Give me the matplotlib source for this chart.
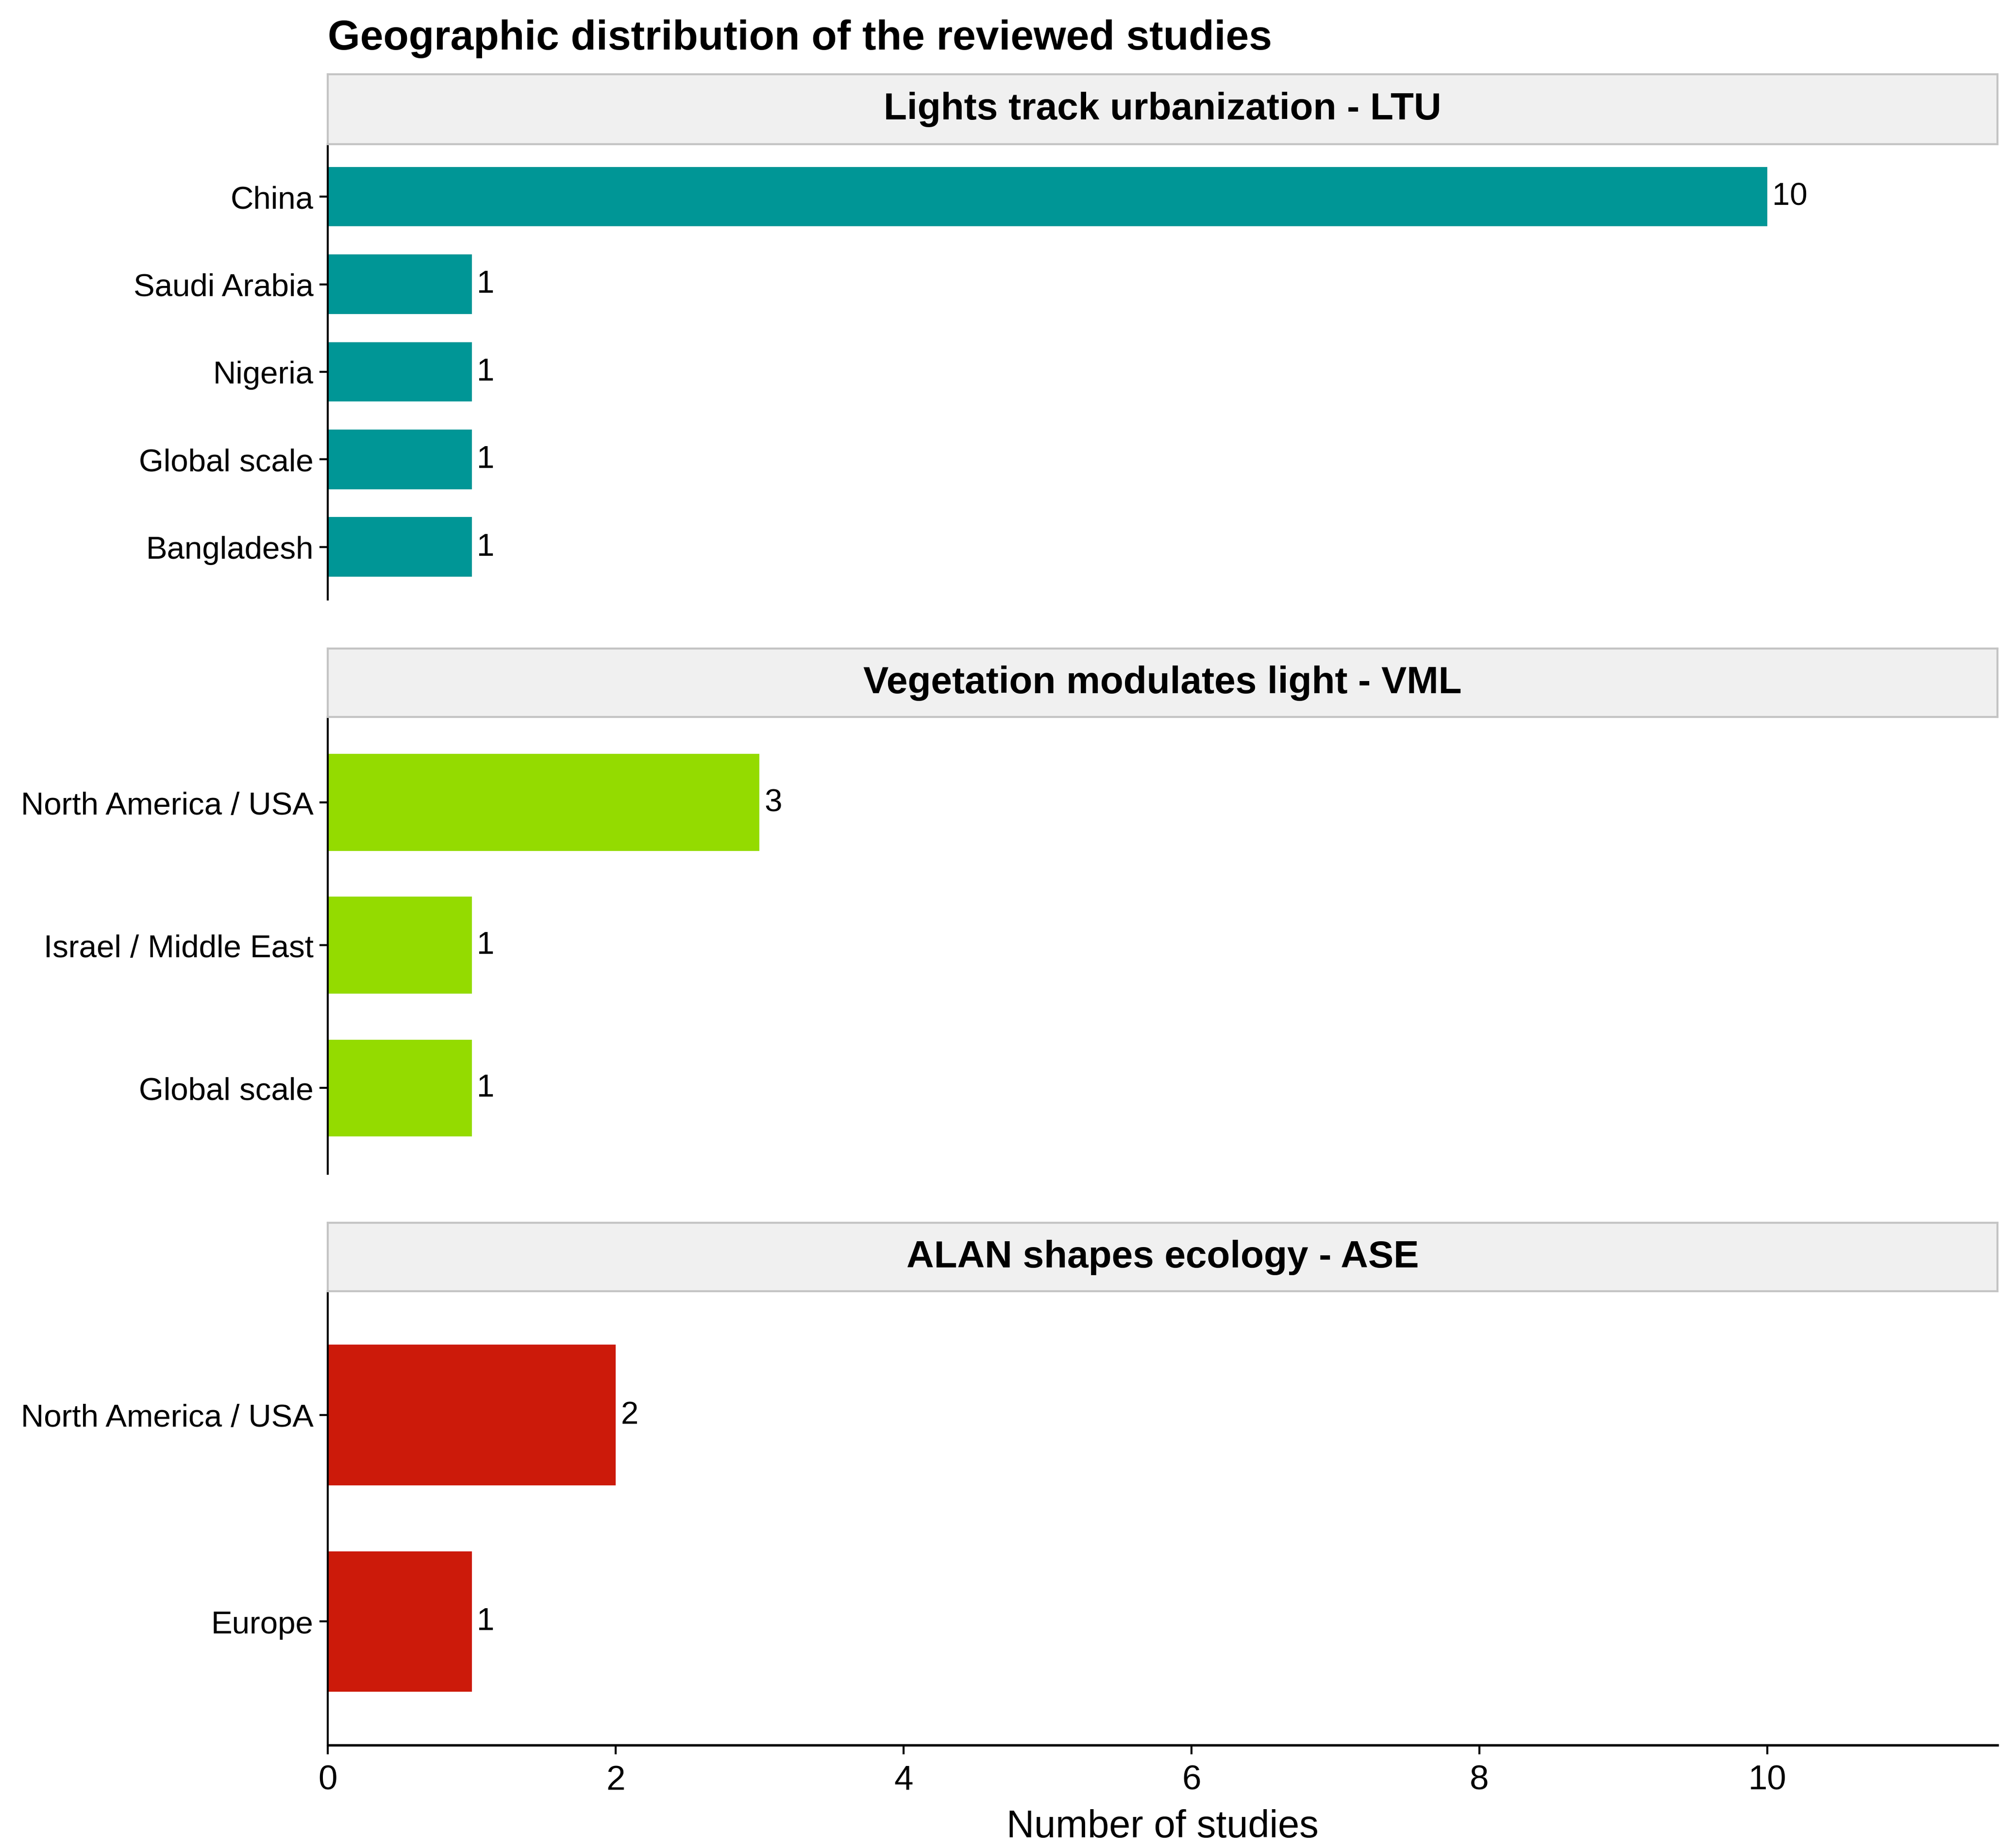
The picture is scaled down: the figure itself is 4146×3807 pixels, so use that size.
import matplotlib
matplotlib.use("Agg")
import matplotlib.pyplot as plt

plt.rcParams['font.family'] = ['Liberation Sans', 'DejaVu Sans']

# data, listed top to bottom as shown
ltu_regions = ["China", "Saudi Arabia", "Nigeria", "Global scale", "Bangladesh"]
ltu_counts = [10, 1, 1, 1, 1]
vml_regions = ["North America / USA", "Israel / Middle East", "Global scale"]
vml_counts = [3, 1, 1]
ase_regions = ["North America / USA", "Europe"]
ase_counts = [2, 1]

panel_titles = ["Lights track urbanization - LTU",
                "Vegetation modulates light - VML",
                "ALAN shapes ecology - ASE"]
colors = ["#009696", "#94db00", "#cc1a0a"]

fig = plt.figure(figsize=(13.82, 12.693), dpi=300)

H = 1432.6
W = 1560.0
left = 254 / W
width = (1548 - 254) / W
# (strip top, axes top, axes bottom) in display px
bounds = [(58, 112, 465), (503, 556, 910), (948, 1001, 1353)]

panels = [(ltu_regions, ltu_counts), (vml_regions, vml_counts), (ase_regions, ase_counts)]
xmax = 11.6

for i, ((regions, counts), (st, at, ab)) in enumerate(zip(panels, bounds)):
    ax = fig.add_axes([left, 1 - ab / H, width, (ab - at) / H])
    pos = list(range(len(regions)))
    ax.barh(pos, counts, height=0.68, color=colors[i])
    ax.set_yticks(pos)
    ax.set_yticklabels(regions, fontsize=15.7)
    ax.set_ylim(len(regions) - 0.4, -0.6)
    ax.set_xlim(0, xmax)
    for p, c in zip(pos, counts):
        ax.annotate(str(c), (c, p), xytext=(2.5, 0), textcoords="offset points",
                    ha="left", va="center", fontsize=15.7)
    ax.spines['top'].set_visible(False)
    ax.spines['right'].set_visible(False)
    ax.spines['left'].set_linewidth(1.0)
    ax.tick_params(axis='y', length=4, width=1.0, pad=3)
    if i < 2:
        ax.spines['bottom'].set_visible(False)
        ax.set_xticks([])
    else:
        ax.spines['bottom'].set_linewidth(1.2)
        ax.set_xticks([0, 2, 4, 6, 8, 10])
        ax.tick_params(axis='x', labelsize=17, length=4.5, width=1.0, pad=5)
        ax.set_xlabel("Number of studies", fontsize=19, labelpad=6)

    sax = fig.add_axes([left, 1 - at / H, width, (at - st) / H])
    sax.set_facecolor("#f0f0f0")
    sax.set_xticks([])
    sax.set_yticks([])
    for sp in sax.spines.values():
        sp.set_color("#c4c4c4")
        sp.set_linewidth(1.0)
    sax.text(0.5, 0.5, panel_titles[i], transform=sax.transAxes, ha="center",
             va="center", fontsize=18.8, fontweight="bold")

fig.text(left, 1 - 30 / H, "Geographic distribution of the reviewed studies",
         ha="left", va="center", fontsize=20.6, fontweight="bold")

fig.savefig("out.png", dpi=300)
